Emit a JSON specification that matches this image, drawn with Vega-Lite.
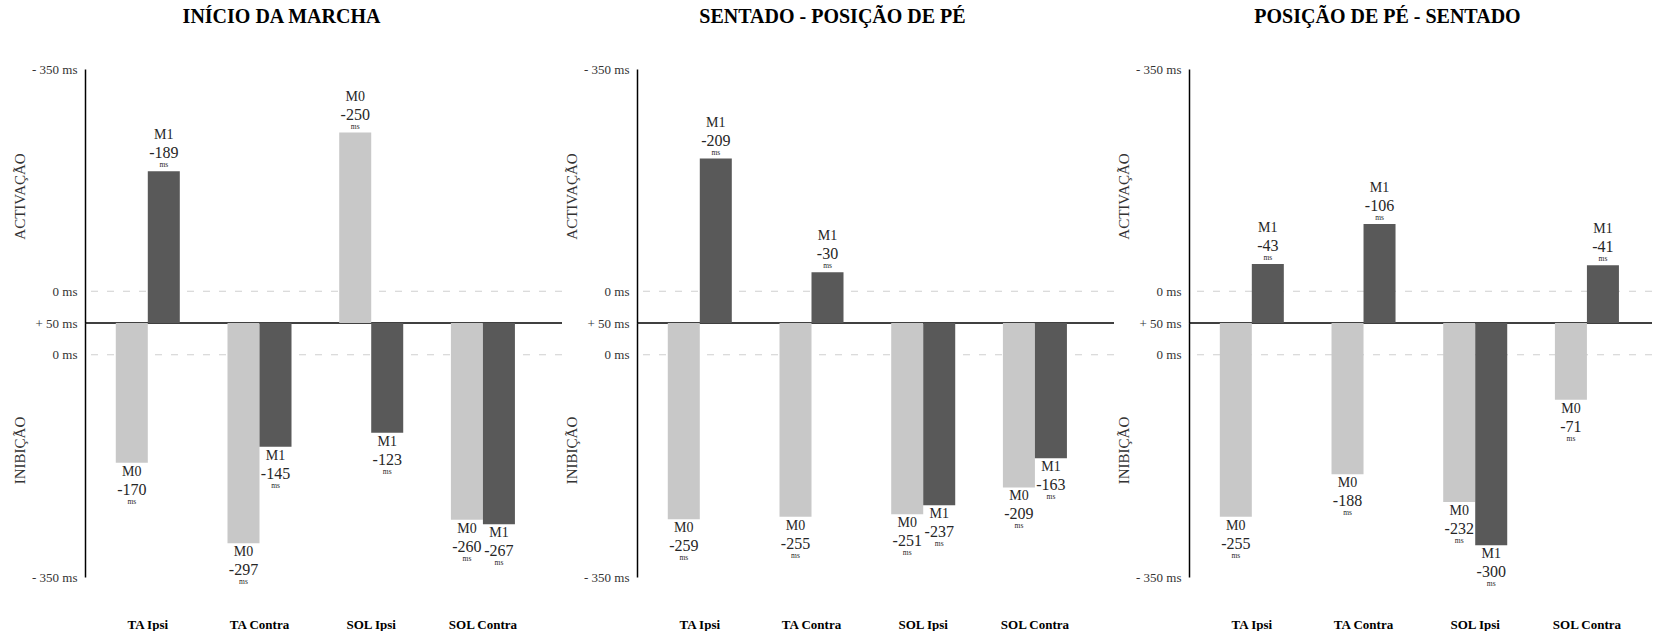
{
"$schema": "https://vega.github.io/schema/vega-lite/v6.json",
"padding": {"left": 12, "top": 7, "right": 0, "bottom": 0},
"bounds": "flush",
"spacing": 75,
"config": {"view": {"stroke": null}, "font": "Liberation Serif",
  "title": {"font": "Liberation Serif", "fontSize": 20, "fontWeight": "bold", "color": "#000", "anchor": "middle", "frame": "group", "baseline": "alphabetic", "offset": 36},
  "text": {"font": "Liberation Serif", "color": "#262626", "baseline": "middle"}},
"datasets": {"d": [
 {"panel": "P1", "cat": "TA Ipsi", "s": "M0", "region": "I", "ms": -170},
 {"panel": "P1", "cat": "TA Ipsi", "s": "M1", "region": "A", "ms": -189},
 {"panel": "P1", "cat": "TA Contra", "s": "M0", "region": "I", "ms": -297},
 {"panel": "P1", "cat": "TA Contra", "s": "M1", "region": "I", "ms": -145},
 {"panel": "P1", "cat": "SOL Ipsi", "s": "M0", "region": "A", "ms": -250},
 {"panel": "P1", "cat": "SOL Ipsi", "s": "M1", "region": "I", "ms": -123},
 {"panel": "P1", "cat": "SOL Contra", "s": "M0", "region": "I", "ms": -260},
 {"panel": "P1", "cat": "SOL Contra", "s": "M1", "region": "I", "ms": -267},
 {"panel": "P2", "cat": "TA Ipsi", "s": "M0", "region": "I", "ms": -259},
 {"panel": "P2", "cat": "TA Ipsi", "s": "M1", "region": "A", "ms": -209},
 {"panel": "P2", "cat": "TA Contra", "s": "M0", "region": "I", "ms": -255},
 {"panel": "P2", "cat": "TA Contra", "s": "M1", "region": "A", "ms": -30},
 {"panel": "P2", "cat": "SOL Ipsi", "s": "M0", "region": "I", "ms": -251},
 {"panel": "P2", "cat": "SOL Ipsi", "s": "M1", "region": "I", "ms": -237},
 {"panel": "P2", "cat": "SOL Contra", "s": "M0", "region": "I", "ms": -209},
 {"panel": "P2", "cat": "SOL Contra", "s": "M1", "region": "I", "ms": -163},
 {"panel": "P3", "cat": "TA Ipsi", "s": "M0", "region": "I", "ms": -255},
 {"panel": "P3", "cat": "TA Ipsi", "s": "M1", "region": "A", "ms": -43},
 {"panel": "P3", "cat": "TA Contra", "s": "M0", "region": "I", "ms": -188},
 {"panel": "P3", "cat": "TA Contra", "s": "M1", "region": "A", "ms": -106},
 {"panel": "P3", "cat": "SOL Ipsi", "s": "M0", "region": "I", "ms": -232},
 {"panel": "P3", "cat": "SOL Ipsi", "s": "M1", "region": "I", "ms": -300},
 {"panel": "P3", "cat": "SOL Contra", "s": "M0", "region": "I", "ms": -71},
 {"panel": "P3", "cat": "SOL Contra", "s": "M1", "region": "A", "ms": -41}
]},
"hconcat": [
{
 "width": 477, "height": 508,
 "title": {"text": "INÍCIO DA MARCHA", "dx": -42},
 "data": {"name": "d"},
 "transform": [{"filter": "datum.panel == 'P1'"}],
 "layer": [
  {"transform": [{"filter": "datum.region == 'A'"}],
   "layer": [
    {"data": {"values": [{}]}, "mark": {"type": "rule", "color": "#cfcfcf", "strokeDash": [7, 9], "strokeWidth": 1},
     "encoding": {"y": {"datum": 0, "type": "quantitative",
       "scale": {"domain": [-350, 50], "range": [0, 254], "nice": false, "zero": false},
       "axis": {"values": [-350, 0, 50], "labelExpr": "datum.value == 50 ? '+ 50 ms' : datum.value == 0 ? '0 ms' : '- 350 ms'", "title": "ACTIVAÇÃO", "orient": "left", "ticks": false, "grid": false, "domainColor": "#000", "domainWidth": 1.5, "labelFont": "Liberation Serif", "labelFontSize": 13, "labelColor": "#333", "labelPadding": 8, "titleFont": "Liberation Serif", "titleFontSize": 15, "titleFontWeight": "normal", "titleColor": "#333", "titlePadding": 4}}}},
    {"data": {"values": [{}]}, "mark": {"type": "rule", "color": "#000", "strokeWidth": 1.5},
     "encoding": {"y": {"datum": 50, "type": "quantitative"}}},
    {"mark": {"type": "bar"},
     "encoding": {
      "x": {"field": "cat", "type": "nominal", "scale": {"domain": ["TA Ipsi", "TA Contra", "SOL Ipsi", "SOL Contra"], "paddingInner": 0, "paddingOuter": 0.135, "align": 0.23},
        "axis": {"title": null, "domain": false, "ticks": false, "labelAngle": 0, "labelFont": "Liberation Serif", "labelFontSize": 13, "labelFontWeight": "bold", "labelColor": "#000", "labelPadding": 41}},
      "xOffset": {"field": "s", "type": "nominal", "scale": {"domain": ["M0", "M1"], "paddingInner": 0, "paddingOuter": 0.745}},
      "y": {"field": "ms", "type": "quantitative"},
      "y2": {"datum": 50},
      "color": {"field": "s", "type": "nominal", "scale": {"domain": ["M0", "M1"], "range": ["#c8c8c8", "#595959"]}, "legend": null}}},
    {"mark": {"type": "text", "dy": -36, "fontSize": 14, "font": "Liberation Serif"},
     "encoding": {"x": {"field": "cat", "type": "nominal"}, "xOffset": {"field": "s", "type": "nominal"}, "y": {"field": "ms", "type": "quantitative"}, "text": {"field": "s", "type": "nominal"}}},
    {"mark": {"type": "text", "dy": -18, "fontSize": 16, "font": "Liberation Serif"},
     "encoding": {"x": {"field": "cat", "type": "nominal"}, "xOffset": {"field": "s", "type": "nominal"}, "y": {"field": "ms", "type": "quantitative"}, "text": {"field": "ms", "type": "nominal"}}},
    {"mark": {"type": "text", "dy": -6, "fontSize": 7.5, "text": "ms", "font": "Liberation Serif"},
     "encoding": {"x": {"field": "cat", "type": "nominal"}, "xOffset": {"field": "s", "type": "nominal"}, "y": {"field": "ms", "type": "quantitative"}}}
   ]},
  {"transform": [{"filter": "datum.region == 'I'"}],
   "layer": [
    {"data": {"values": [{}]}, "mark": {"type": "rule", "color": "#cfcfcf", "strokeDash": [7, 9], "strokeWidth": 1},
     "encoding": {"y": {"datum": 0, "type": "quantitative",
       "scale": {"domain": [-350, 50], "range": [508, 254], "nice": false, "zero": false},
       "axis": {"values": [-350, 0], "labelExpr": "datum.value == 0 ? '0 ms' : '- 350 ms'", "title": "INIBIÇÃO", "orient": "left", "ticks": false, "grid": false, "domainColor": "#000", "domainWidth": 1.5, "labelFont": "Liberation Serif", "labelFontSize": 13, "labelColor": "#333", "labelPadding": 8, "titleFont": "Liberation Serif", "titleFontSize": 15, "titleFontWeight": "normal", "titleColor": "#333", "titlePadding": 4}}}},
    {"mark": {"type": "bar"},
     "encoding": {
      "x": {"field": "cat", "type": "nominal"},
      "xOffset": {"field": "s", "type": "nominal"},
      "y": {"field": "ms", "type": "quantitative"},
      "y2": {"datum": 50},
      "color": {"field": "s", "type": "nominal", "legend": null}}},
    {"mark": {"type": "text", "dy": 9, "fontSize": 14, "font": "Liberation Serif"},
     "encoding": {"x": {"field": "cat", "type": "nominal"}, "xOffset": {"field": "s", "type": "nominal"}, "y": {"field": "ms", "type": "quantitative"}, "text": {"field": "s", "type": "nominal"}}},
    {"mark": {"type": "text", "dy": 27, "fontSize": 16, "font": "Liberation Serif"},
     "encoding": {"x": {"field": "cat", "type": "nominal"}, "xOffset": {"field": "s", "type": "nominal"}, "y": {"field": "ms", "type": "quantitative"}, "text": {"field": "ms", "type": "nominal"}}},
    {"mark": {"type": "text", "dy": 39, "fontSize": 7.5, "text": "ms", "font": "Liberation Serif"},
     "encoding": {"x": {"field": "cat", "type": "nominal"}, "xOffset": {"field": "s", "type": "nominal"}, "y": {"field": "ms", "type": "quantitative"}}}
   ]}
 ],
 "resolve": {"scale": {"y": "independent"}, "axis": {"y": "independent"}}
},
{
 "width": 477, "height": 508,
 "title": {"text": "SENTADO - POSIÇÃO DE PÉ", "dx": -43},
 "data": {"name": "d"},
 "transform": [{"filter": "datum.panel == 'P2'"}],
 "layer": [
  {"transform": [{"filter": "datum.region == 'A'"}],
   "layer": [
    {"data": {"values": [{}]}, "mark": {"type": "rule", "color": "#cfcfcf", "strokeDash": [7, 9], "strokeWidth": 1},
     "encoding": {"y": {"datum": 0, "type": "quantitative",
       "scale": {"domain": [-350, 50], "range": [0, 254], "nice": false, "zero": false},
       "axis": {"values": [-350, 0, 50], "labelExpr": "datum.value == 50 ? '+ 50 ms' : datum.value == 0 ? '0 ms' : '- 350 ms'", "title": "ACTIVAÇÃO", "orient": "left", "ticks": false, "grid": false, "domainColor": "#000", "domainWidth": 1.5, "labelFont": "Liberation Serif", "labelFontSize": 13, "labelColor": "#333", "labelPadding": 8, "titleFont": "Liberation Serif", "titleFontSize": 15, "titleFontWeight": "normal", "titleColor": "#333", "titlePadding": 4}}}},
    {"data": {"values": [{}]}, "mark": {"type": "rule", "color": "#000", "strokeWidth": 1.5},
     "encoding": {"y": {"datum": 50, "type": "quantitative"}}},
    {"mark": {"type": "bar"},
     "encoding": {
      "x": {"field": "cat", "type": "nominal", "scale": {"domain": ["TA Ipsi", "TA Contra", "SOL Ipsi", "SOL Contra"], "paddingInner": 0, "paddingOuter": 0.135, "align": 0.23},
        "axis": {"title": null, "domain": false, "ticks": false, "labelAngle": 0, "labelFont": "Liberation Serif", "labelFontSize": 13, "labelFontWeight": "bold", "labelColor": "#000", "labelPadding": 41}},
      "xOffset": {"field": "s", "type": "nominal", "scale": {"domain": ["M0", "M1"], "paddingInner": 0, "paddingOuter": 0.745}},
      "y": {"field": "ms", "type": "quantitative"},
      "y2": {"datum": 50},
      "color": {"field": "s", "type": "nominal", "scale": {"domain": ["M0", "M1"], "range": ["#c8c8c8", "#595959"]}, "legend": null}}},
    {"mark": {"type": "text", "dy": -36, "fontSize": 14, "font": "Liberation Serif"},
     "encoding": {"x": {"field": "cat", "type": "nominal"}, "xOffset": {"field": "s", "type": "nominal"}, "y": {"field": "ms", "type": "quantitative"}, "text": {"field": "s", "type": "nominal"}}},
    {"mark": {"type": "text", "dy": -18, "fontSize": 16, "font": "Liberation Serif"},
     "encoding": {"x": {"field": "cat", "type": "nominal"}, "xOffset": {"field": "s", "type": "nominal"}, "y": {"field": "ms", "type": "quantitative"}, "text": {"field": "ms", "type": "nominal"}}},
    {"mark": {"type": "text", "dy": -6, "fontSize": 7.5, "text": "ms", "font": "Liberation Serif"},
     "encoding": {"x": {"field": "cat", "type": "nominal"}, "xOffset": {"field": "s", "type": "nominal"}, "y": {"field": "ms", "type": "quantitative"}}}
   ]},
  {"transform": [{"filter": "datum.region == 'I'"}],
   "layer": [
    {"data": {"values": [{}]}, "mark": {"type": "rule", "color": "#cfcfcf", "strokeDash": [7, 9], "strokeWidth": 1},
     "encoding": {"y": {"datum": 0, "type": "quantitative",
       "scale": {"domain": [-350, 50], "range": [508, 254], "nice": false, "zero": false},
       "axis": {"values": [-350, 0], "labelExpr": "datum.value == 0 ? '0 ms' : '- 350 ms'", "title": "INIBIÇÃO", "orient": "left", "ticks": false, "grid": false, "domainColor": "#000", "domainWidth": 1.5, "labelFont": "Liberation Serif", "labelFontSize": 13, "labelColor": "#333", "labelPadding": 8, "titleFont": "Liberation Serif", "titleFontSize": 15, "titleFontWeight": "normal", "titleColor": "#333", "titlePadding": 4}}}},
    {"mark": {"type": "bar"},
     "encoding": {
      "x": {"field": "cat", "type": "nominal"},
      "xOffset": {"field": "s", "type": "nominal"},
      "y": {"field": "ms", "type": "quantitative"},
      "y2": {"datum": 50},
      "color": {"field": "s", "type": "nominal", "legend": null}}},
    {"mark": {"type": "text", "dy": 9, "fontSize": 14, "font": "Liberation Serif"},
     "encoding": {"x": {"field": "cat", "type": "nominal"}, "xOffset": {"field": "s", "type": "nominal"}, "y": {"field": "ms", "type": "quantitative"}, "text": {"field": "s", "type": "nominal"}}},
    {"mark": {"type": "text", "dy": 27, "fontSize": 16, "font": "Liberation Serif"},
     "encoding": {"x": {"field": "cat", "type": "nominal"}, "xOffset": {"field": "s", "type": "nominal"}, "y": {"field": "ms", "type": "quantitative"}, "text": {"field": "ms", "type": "nominal"}}},
    {"mark": {"type": "text", "dy": 39, "fontSize": 7.5, "text": "ms", "font": "Liberation Serif"},
     "encoding": {"x": {"field": "cat", "type": "nominal"}, "xOffset": {"field": "s", "type": "nominal"}, "y": {"field": "ms", "type": "quantitative"}}}
   ]}
 ],
 "resolve": {"scale": {"y": "independent"}, "axis": {"y": "independent"}}
},
{
 "width": 463, "height": 508,
 "title": {"text": "POSIÇÃO DE PÉ - SENTADO", "dx": -33},
 "data": {"name": "d"},
 "transform": [{"filter": "datum.panel == 'P3'"}],
 "layer": [
  {"transform": [{"filter": "datum.region == 'A'"}],
   "layer": [
    {"data": {"values": [{}]}, "mark": {"type": "rule", "color": "#cfcfcf", "strokeDash": [7, 9], "strokeWidth": 1},
     "encoding": {"y": {"datum": 0, "type": "quantitative",
       "scale": {"domain": [-350, 50], "range": [0, 254], "nice": false, "zero": false},
       "axis": {"values": [-350, 0, 50], "labelExpr": "datum.value == 50 ? '+ 50 ms' : datum.value == 0 ? '0 ms' : '- 350 ms'", "title": "ACTIVAÇÃO", "orient": "left", "ticks": false, "grid": false, "domainColor": "#000", "domainWidth": 1.5, "labelFont": "Liberation Serif", "labelFontSize": 13, "labelColor": "#333", "labelPadding": 8, "titleFont": "Liberation Serif", "titleFontSize": 15, "titleFontWeight": "normal", "titleColor": "#333", "titlePadding": 4}}}},
    {"data": {"values": [{}]}, "mark": {"type": "rule", "color": "#000", "strokeWidth": 1.5},
     "encoding": {"y": {"datum": 50, "type": "quantitative"}}},
    {"mark": {"type": "bar"},
     "encoding": {
      "x": {"field": "cat", "type": "nominal", "scale": {"domain": ["TA Ipsi", "TA Contra", "SOL Ipsi", "SOL Contra"], "paddingInner": 0, "paddingOuter": 0.0725, "align": 0.43},
        "axis": {"title": null, "domain": false, "ticks": false, "labelAngle": 0, "labelFont": "Liberation Serif", "labelFontSize": 13, "labelFontWeight": "bold", "labelColor": "#000", "labelPadding": 41}},
      "xOffset": {"field": "s", "type": "nominal", "scale": {"domain": ["M0", "M1"], "paddingInner": 0, "paddingOuter": 0.745}},
      "y": {"field": "ms", "type": "quantitative"},
      "y2": {"datum": 50},
      "color": {"field": "s", "type": "nominal", "scale": {"domain": ["M0", "M1"], "range": ["#c8c8c8", "#595959"]}, "legend": null}}},
    {"mark": {"type": "text", "dy": -36, "fontSize": 14, "font": "Liberation Serif"},
     "encoding": {"x": {"field": "cat", "type": "nominal"}, "xOffset": {"field": "s", "type": "nominal"}, "y": {"field": "ms", "type": "quantitative"}, "text": {"field": "s", "type": "nominal"}}},
    {"mark": {"type": "text", "dy": -18, "fontSize": 16, "font": "Liberation Serif"},
     "encoding": {"x": {"field": "cat", "type": "nominal"}, "xOffset": {"field": "s", "type": "nominal"}, "y": {"field": "ms", "type": "quantitative"}, "text": {"field": "ms", "type": "nominal"}}},
    {"mark": {"type": "text", "dy": -6, "fontSize": 7.5, "text": "ms", "font": "Liberation Serif"},
     "encoding": {"x": {"field": "cat", "type": "nominal"}, "xOffset": {"field": "s", "type": "nominal"}, "y": {"field": "ms", "type": "quantitative"}}}
   ]},
  {"transform": [{"filter": "datum.region == 'I'"}],
   "layer": [
    {"data": {"values": [{}]}, "mark": {"type": "rule", "color": "#cfcfcf", "strokeDash": [7, 9], "strokeWidth": 1},
     "encoding": {"y": {"datum": 0, "type": "quantitative",
       "scale": {"domain": [-350, 50], "range": [508, 254], "nice": false, "zero": false},
       "axis": {"values": [-350, 0], "labelExpr": "datum.value == 0 ? '0 ms' : '- 350 ms'", "title": "INIBIÇÃO", "orient": "left", "ticks": false, "grid": false, "domainColor": "#000", "domainWidth": 1.5, "labelFont": "Liberation Serif", "labelFontSize": 13, "labelColor": "#333", "labelPadding": 8, "titleFont": "Liberation Serif", "titleFontSize": 15, "titleFontWeight": "normal", "titleColor": "#333", "titlePadding": 4}}}},
    {"mark": {"type": "bar"},
     "encoding": {
      "x": {"field": "cat", "type": "nominal"},
      "xOffset": {"field": "s", "type": "nominal"},
      "y": {"field": "ms", "type": "quantitative"},
      "y2": {"datum": 50},
      "color": {"field": "s", "type": "nominal", "legend": null}}},
    {"mark": {"type": "text", "dy": 9, "fontSize": 14, "font": "Liberation Serif"},
     "encoding": {"x": {"field": "cat", "type": "nominal"}, "xOffset": {"field": "s", "type": "nominal"}, "y": {"field": "ms", "type": "quantitative"}, "text": {"field": "s", "type": "nominal"}}},
    {"mark": {"type": "text", "dy": 27, "fontSize": 16, "font": "Liberation Serif"},
     "encoding": {"x": {"field": "cat", "type": "nominal"}, "xOffset": {"field": "s", "type": "nominal"}, "y": {"field": "ms", "type": "quantitative"}, "text": {"field": "ms", "type": "nominal"}}},
    {"mark": {"type": "text", "dy": 39, "fontSize": 7.5, "text": "ms", "font": "Liberation Serif"},
     "encoding": {"x": {"field": "cat", "type": "nominal"}, "xOffset": {"field": "s", "type": "nominal"}, "y": {"field": "ms", "type": "quantitative"}}}
   ]}
 ],
 "resolve": {"scale": {"y": "independent"}, "axis": {"y": "independent"}}
}
]
}
